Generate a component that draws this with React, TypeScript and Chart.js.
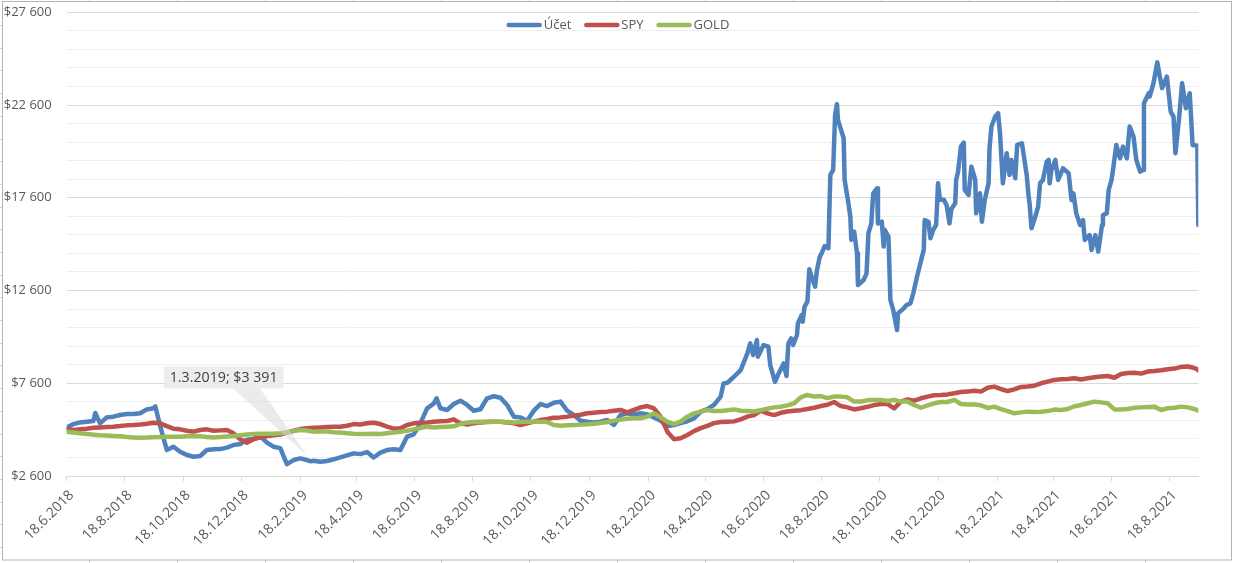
import React, { useEffect, useRef } from "react";
import { Chart, registerables } from "chart.js";

Chart.register(...registerables);

const seriesNames = ["Účet", "SPY", "GOLD"];
const seriesColors = ["#4f81bd", "#c0504d", "#9bbb59"];

const axisStart = "18.6.2018";
const axisEnd = "17.9.2021";
const yMin = 2600;
const yMax = 27600;
const yMajor = 5000;
const yMinor = 1000;

const tickDates = [
  "18.6.2018", "18.8.2018", "18.10.2018", "18.12.2018", "18.2.2019", "18.4.2019", "18.6.2019",
  "18.8.2019", "18.10.2019", "18.12.2019", "18.2.2020", "18.4.2020", "18.6.2020", "18.8.2020",
  "18.10.2020", "18.12.2020", "18.2.2021", "18.4.2021", "18.6.2021", "18.8.2021",
];

// weekly dates for SPY and GOLD
const weekDates = [
  "18.6.2018", "25.6.2018", "2.7.2018", "9.7.2018", "16.7.2018", "23.7.2018", "30.7.2018", "6.8.2018", "13.8.2018", "20.8.2018",
  "27.8.2018", "3.9.2018", "10.9.2018", "17.9.2018", "24.9.2018", "1.10.2018", "8.10.2018", "15.10.2018", "22.10.2018", "29.10.2018",
  "5.11.2018", "12.11.2018", "19.11.2018", "26.11.2018", "3.12.2018", "10.12.2018", "17.12.2018", "24.12.2018", "31.12.2018",
  "7.1.2019", "14.1.2019", "21.1.2019", "28.1.2019", "4.2.2019", "11.2.2019", "18.2.2019", "25.2.2019", "4.3.2019", "11.3.2019",
  "18.3.2019", "25.3.2019", "1.4.2019", "8.4.2019", "15.4.2019", "22.4.2019", "29.4.2019", "6.5.2019", "13.5.2019", "20.5.2019",
  "27.5.2019", "3.6.2019", "10.6.2019", "17.6.2019", "24.6.2019", "1.7.2019", "8.7.2019", "15.7.2019", "22.7.2019", "29.7.2019",
  "5.8.2019", "12.8.2019", "19.8.2019", "26.8.2019", "2.9.2019", "9.9.2019", "16.9.2019", "23.9.2019", "30.9.2019", "7.10.2019",
  "14.10.2019", "21.10.2019", "28.10.2019", "4.11.2019", "11.11.2019", "18.11.2019", "25.11.2019", "2.12.2019", "9.12.2019", "16.12.2019",
  "23.12.2019", "30.12.2019",
  "6.1.2020", "13.1.2020", "20.1.2020", "27.1.2020", "3.2.2020", "10.2.2020", "17.2.2020", "24.2.2020", "2.3.2020", "9.3.2020",
  "16.3.2020", "23.3.2020", "30.3.2020", "6.4.2020", "13.4.2020", "20.4.2020", "27.4.2020", "4.5.2020", "11.5.2020", "18.5.2020",
  "25.5.2020", "1.6.2020", "8.6.2020", "15.6.2020", "22.6.2020", "29.6.2020", "6.7.2020", "13.7.2020", "20.7.2020", "27.7.2020",
  "3.8.2020", "10.8.2020", "17.8.2020", "24.8.2020", "31.8.2020", "7.9.2020", "14.9.2020", "21.9.2020", "28.9.2020", "5.10.2020",
  "12.10.2020", "19.10.2020", "26.10.2020", "2.11.2020", "9.11.2020", "16.11.2020", "23.11.2020", "30.11.2020", "7.12.2020", "14.12.2020",
  "21.12.2020", "28.12.2020",
  "4.1.2021", "11.1.2021", "18.1.2021", "25.1.2021", "1.2.2021", "8.2.2021", "15.2.2021", "22.2.2021", "1.3.2021", "8.3.2021",
  "15.3.2021", "22.3.2021", "29.3.2021", "5.4.2021", "12.4.2021", "19.4.2021", "26.4.2021", "3.5.2021", "10.5.2021", "17.5.2021",
  "24.5.2021", "31.5.2021", "7.6.2021", "14.6.2021", "21.6.2021", "28.6.2021", "5.7.2021", "12.7.2021", "19.7.2021", "26.7.2021",
  "2.8.2021", "9.8.2021", "16.8.2021", "23.8.2021", "30.8.2021", "6.9.2021", "13.9.2021", "16.9.2021", "17.9.2021",
];

const spyValues = [
  5116, 5080, 5116, 5150, 5200, 5220, 5240, 5260, 5290, 5330,
  5350, 5380, 5420, 5475, 5440, 5290, 5150, 5116, 5040, 4990,
  5080, 5116, 5040, 5060, 5080, 4900, 4580, 4400, 4580,
  4680, 4750, 4790, 4830, 4940, 5040, 5130, 5170, 5200, 5220,
  5240, 5260, 5260, 5310, 5400, 5380, 5440, 5475, 5400, 5260,
  5150, 5170, 5350, 5440, 5475, 5490, 5530, 5550, 5565, 5655,
  5440, 5370, 5440, 5490, 5510, 5530, 5530, 5490, 5440, 5350,
  5440, 5530, 5620, 5670, 5745, 5760, 5800, 5850, 5905, 5980,
  6015, 6050,
  6070, 6120, 6160, 6030, 6160, 6300, 6370, 6250, 5800, 4990,
  4580, 4630, 4810, 5020, 5180, 5300, 5450, 5510, 5525, 5545,
  5650, 5800, 5885, 6120, 5980, 5885, 6010, 6080, 6120, 6150,
  6210, 6280, 6370, 6440, 6590, 6370, 6300, 6190, 6250, 6330,
  6420, 6480, 6480, 6250, 6610, 6730, 6660, 6790, 6880, 6950,
  6970, 7000,
  7060, 7130, 7150, 7200, 7150, 7360, 7420, 7290, 7180, 7270,
  7400, 7420, 7470, 7600, 7690, 7780, 7810, 7830, 7870, 7800,
  7870, 7920, 7960, 7990, 7900, 8100, 8150, 8170, 8120, 8230,
  8260, 8300, 8350, 8390, 8480, 8500, 8420, 8350, 8300,
];

const goldValues = [
  4990, 4950, 4900, 4860, 4830, 4800, 4780, 4760, 4740, 4700,
  4680, 4660, 4670, 4690, 4700, 4710, 4720, 4720, 4740, 4760,
  4740, 4700, 4680, 4700, 4730, 4760, 4800, 4840, 4870,
  4880, 4880, 4880, 4900, 4960, 5020, 5080, 5050, 4990, 5000,
  5000, 4960, 4940, 4910, 4880, 4870, 4870, 4880, 4860, 4900,
  4940, 4990, 5040, 5116, 5190, 5260, 5220, 5240, 5260, 5280,
  5400, 5490, 5510, 5530, 5530, 5530, 5530, 5510, 5490, 5510,
  5530, 5530, 5530, 5510, 5350, 5310, 5330, 5350, 5370, 5385,
  5420, 5460,
  5510, 5580, 5640, 5690, 5710, 5710, 5800, 5980, 5760, 5530,
  5400, 5530, 5800, 5980, 6070, 6160, 6100, 6100, 6140, 6190,
  6120, 6100, 6080, 6150, 6230, 6300, 6330, 6410, 6520, 6840,
  6970, 6880, 6910, 6800, 6880, 6880, 6840, 6610, 6610, 6680,
  6700, 6700, 6640, 6700, 6610, 6610, 6430, 6280, 6410, 6520,
  6590, 6590,
  6700, 6480, 6460, 6460, 6410, 6270, 6340, 6210, 6100, 5980,
  6030, 6070, 6050, 6070, 6100, 6180, 6160, 6210, 6360, 6430,
  6520, 6610, 6570, 6520, 6190, 6190, 6210, 6280, 6300, 6320,
  6340, 6160, 6250, 6280, 6340, 6300, 6210, 6150, 6120,
];

// Účet has its own, denser dates
const uctDates = [
  "18.6.2018", "25.6.2018", "2.7.2018", "9.7.2018", "16.7.2018", "18.7.2018", "23.7.2018", "30.7.2018", "6.8.2018", "13.8.2018",
  "20.8.2018", "27.8.2018", "3.9.2018", "10.9.2018", "17.9.2018", "19.9.2018", "24.9.2018", "1.10.2018", "8.10.2018", "15.10.2018",
  "22.10.2018", "29.10.2018", "5.11.2018", "12.11.2018", "19.11.2018", "26.11.2018", "3.12.2018", "10.12.2018", "17.12.2018", "24.12.2018",
  "31.12.2018", "7.1.2019", "14.1.2019", "21.1.2019", "28.1.2019", "4.2.2019", "11.2.2019", "18.2.2019", "25.2.2019", "1.3.2019",
  "4.3.2019", "11.3.2019", "18.3.2019", "25.3.2019", "1.4.2019", "8.4.2019", "15.4.2019", "22.4.2019", "29.4.2019", "6.5.2019",
  "13.5.2019", "20.5.2019", "27.5.2019", "3.6.2019", "10.6.2019", "17.6.2019", "24.6.2019", "1.7.2019", "8.7.2019", "11.7.2019",
  "15.7.2019", "22.7.2019", "29.7.2019", "5.8.2019", "12.8.2019", "19.8.2019", "26.8.2019", "2.9.2019", "9.9.2019", "16.9.2019",
  "23.9.2019", "30.9.2019", "7.10.2019", "14.10.2019", "21.10.2019", "28.10.2019", "4.11.2019", "11.11.2019", "18.11.2019", "25.11.2019",
  "2.12.2019", "9.12.2019", "16.12.2019", "23.12.2019", "30.12.2019", "6.1.2020", "13.1.2020", "20.1.2020", "27.1.2020", "3.2.2020",
  "10.2.2020", "17.2.2020", "24.2.2020", "2.3.2020", "9.3.2020", "16.3.2020", "23.3.2020", "30.3.2020", "6.4.2020", "13.4.2020",
  "20.4.2020", "27.4.2020", "4.5.2020", "7.5.2020", "11.5.2020", "18.5.2020", "25.5.2020", "1.6.2020", "4.6.2020", "7.6.2020",
  "11.6.2020", "12.6.2020", "18.6.2020", "23.6.2020", "25.6.2020", "30.6.2020", "3.7.2020", "9.7.2020", "12.7.2020", "14.7.2020",
  "17.7.2020", "19.7.2020", "23.7.2020", "24.7.2020", "28.7.2020", "29.7.2020", "31.7.2020", "3.8.2020", "5.8.2020", "7.8.2020",
  "11.8.2020", "13.8.2020", "16.8.2020", "18.8.2020", "21.8.2020", "25.8.2020", "27.8.2020", "30.8.2020", "1.9.2020", "3.9.2020",
  "4.9.2020", "10.9.2020", "11.9.2020", "15.9.2020", "17.9.2020", "18.9.2020", "21.9.2020", "24.9.2020", "25.9.2020", "1.10.2020",
  "4.10.2020", "6.10.2020", "9.10.2020", "11.10.2020", "15.10.2020", "16.10.2020", "20.10.2020", "22.10.2020", "23.10.2020", "27.10.2020",
  "29.10.2020", "1.11.2020", "5.11.2020", "6.11.2020", "12.11.2020", "15.11.2020", "19.11.2020", "22.11.2020", "26.11.2020", "29.11.2020",
  "3.12.2020", "4.12.2020", "8.12.2020", "10.12.2020", "13.12.2020", "16.12.2020", "18.12.2020", "20.12.2020", "24.12.2020", "27.12.2020",
  "30.12.2020", "1.1.2021", "5.1.2021", "6.1.2021", "8.1.2021", "11.1.2021", "14.1.2021", "15.1.2021", "19.1.2021", "22.1.2021",
  "26.1.2021", "27.1.2021", "31.1.2021", "2.2.2021", "5.2.2021", "9.2.2021", "10.2.2021", "12.2.2021", "16.2.2021", "19.2.2021",
  "21.2.2021", "24.2.2021", "28.2.2021", "3.3.2021", "5.3.2021", "9.3.2021", "11.3.2021", "16.3.2021", "21.3.2021", "23.3.2021",
  "24.3.2021", "26.3.2021", "30.3.2021", "2.4.2021", "4.4.2021", "7.4.2021", "11.4.2021", "13.4.2021", "14.4.2021", "16.4.2021",
  "20.4.2021", "23.4.2021", "28.4.2021", "4.5.2021", "7.5.2021", "9.5.2021", "12.5.2021", "16.5.2021", "19.5.2021", "21.5.2021",
  "26.5.2021", "28.5.2021", "1.6.2021", "4.6.2021", "8.6.2021", "9.6.2021", "13.6.2021", "15.6.2021", "18.6.2021", "20.6.2021",
  "23.6.2021", "27.6.2021", "30.6.2021", "4.7.2021", "7.7.2021", "11.7.2021", "14.7.2021", "18.7.2021", "21.7.2021", "22.7.2021",
  "27.7.2021", "28.7.2021", "1.8.2021", "5.8.2021", "8.8.2021", "10.8.2021", "15.8.2021", "19.8.2021", "22.8.2021", "24.8.2021",
  "28.8.2021", "31.8.2021", "4.9.2021", "8.9.2021", "11.9.2021", "16.9.2021", "17.9.2021",
];

const uctValues = [
  5200, 5400, 5490, 5530, 5560, 6000, 5440, 5760, 5800, 5890,
  5940, 5940, 5980, 6190, 6250, 6350, 5300, 4000, 4180, 3910,
  3730, 3640, 3680, 4000, 4040, 4050, 4130, 4270, 4320, 4560,
  4600, 4750, 4400, 4180, 4100, 3240, 3460, 3550, 3460, 3391,
  3420, 3370, 3410, 3500, 3600, 3710, 3820, 3780, 3890, 3600,
  3860, 4000, 4040, 4000, 4720, 4850, 5440, 6250, 6500, 6790,
  6250, 6160, 6480, 6660, 6430, 6120, 6200, 6790, 6900, 6820,
  6430, 5800, 5760, 5580, 6120, 6480, 6370, 6550, 6610, 6120,
  5890, 5580, 5530, 5490, 5530, 5620, 5350, 5890, 5980, 5920,
  5980, 5920, 5760, 5580, 5300, 5350, 5450, 5550, 5700, 6070,
  6200, 6430, 6880, 7590, 7630, 7950, 8310, 9210, 9750, 9120,
  9930, 9030, 9660, 9570, 8580, 7680, 8040, 8670, 7990, 9750,
  10020, 9660, 10200, 10830, 11280, 10920, 11730, 12000, 13750, 13400,
  12810, 13700, 14430, 14610, 15000, 14880, 18830, 19100, 22070, 22650,
  21800, 20810, 18560, 17300, 16580, 15330, 15780, 14610, 12900, 13170,
  13530, 15690, 16220, 17840, 18110, 16220, 16310, 14970, 15870, 15510,
  12090, 11550, 10470, 11370, 11640, 11820, 11910, 12450, 13350, 13980,
  14790, 16400, 16310, 15420, 15870, 16140, 18380, 17500, 17500, 17200,
  16220, 17000, 17300, 18560, 19000, 20360, 20580, 18020, 17750, 19280,
  18560, 16760, 17840, 16310, 17480, 18380, 20270, 21440, 21980, 22160,
  21080, 18380, 20000, 18830, 19640, 18650, 20450, 20540, 18830, 17660,
  17300, 15960, 16580, 17120, 18380, 18560, 19550, 19640, 18380, 19100,
  19640, 18560, 19190, 18920, 17480, 17840, 16760, 16130, 16400, 15320,
  15590, 14790, 15590, 14700, 16130, 16670, 16760, 18020, 18560, 19280,
  20450, 19730, 20360, 19730, 21440, 20900, 19640, 19010, 19100, 22700,
  23240, 23060, 23780, 24900, 24040, 23510, 24140, 22250, 21980, 20000,
  21980, 23780, 22430, 23240, 20450, 20410, 16130,
];

const calloutDate = "1.3.2019";
const calloutValue = 3391;

const FONT = '"Open Sans", "Liberation Sans", Arial, sans-serif';

function dayOf(s: string): number {
  const [d, m, y] = s.split(".").map(Number);
  const [d0, m0, y0] = axisStart.split(".").map(Number);
  return Math.round((Date.UTC(y, m - 1, d) - Date.UTC(y0, m0 - 1, d0)) / 86400000);
}

function money(v: number): string {
  return "$" + String(Math.round(v)).replace(/\B(?=(\d{3})+(?!\d))/g, " ");
}

function pairs(dates: string[], values: number[]) {
  const n = Math.min(dates.length, values.length);
  const out: { x: number; y: number }[] = [];
  for (let i = 0; i < n; i++) out.push({ x: dayOf(dates[i]), y: values[i] });
  return out;
}

const framePlugin = {
  id: "frame",
  beforeDraw(chart: any) {
    const { ctx, width, height } = chart;
    ctx.save();
    ctx.fillStyle = "#ffffff";
    ctx.fillRect(0, 0, width, height);
    ctx.strokeStyle = "#d0d0d0";
    ctx.lineWidth = 1;
    ctx.beginPath();
    for (let x = 89; x < width - 4; x += 88) {
      ctx.moveTo(x + 0.5, 0);
      ctx.lineTo(x + 0.5, 1.5);
      ctx.moveTo(x + 0.5, 560);
      ctx.lineTo(x + 0.5, height);
    }
    for (let y = 25; y < height - 4; y += 22.7) {
      ctx.moveTo(0, Math.round(y) + 0.5);
      ctx.lineTo(2, Math.round(y) + 0.5);
    }
    ctx.stroke();
    ctx.strokeStyle = "#b4b4b4";
    ctx.strokeRect(2.5, 1.5, 1229, 558.5);
    ctx.restore();
  },
};

const legendPlugin = {
  id: "customLegend",
  afterDraw(chart: any) {
    const { ctx } = chart;
    ctx.save();
    ctx.font = `13px ${FONT}`;
    const sample = 35;
    const gap = 2;
    const between = 13;
    const widths = seriesNames.map((n) => ctx.measureText(n).width);
    const total = widths.reduce((s, w) => s + sample + gap + w, 0) + between * (seriesNames.length - 1);
    let x = 618 - total / 2;
    const y = 25;
    seriesNames.forEach((name, i) => {
      ctx.strokeStyle = seriesColors[i];
      ctx.lineWidth = 4.5;
      ctx.lineCap = "round";
      ctx.beginPath();
      ctx.moveTo(x + 2, y);
      ctx.lineTo(x + sample - 2, y);
      ctx.stroke();
      ctx.fillStyle = "#595959";
      ctx.textBaseline = "middle";
      ctx.textAlign = "left";
      ctx.fillText(name, x + sample + gap, y + 0.5);
      x += sample + gap + widths[i] + between;
    });
    ctx.restore();
  },
};

const calloutPlugin = {
  id: "callout",
  afterDatasetsDraw(chart: any) {
    const { ctx } = chart;
    const xs = chart.scales.x;
    const ys = chart.scales.y;
    const px = xs.getPixelForValue(dayOf(calloutDate));
    const py = ys.getPixelForValue(calloutValue);
    const text = `${calloutDate}; ${money(calloutValue)}`;
    ctx.save();
    ctx.font = `14.2px ${FONT}`;
    const tw = ctx.measureText(text).width;
    const bw = tw + 12;
    const bh = 22;
    const bx = px - 147;
    const by = py - 95;
    ctx.fillStyle = "rgba(215,215,215,0.5)";
    ctx.beginPath();
    ctx.moveTo(bx + 69, by + bh);
    ctx.lineTo(bx + 96, by + bh);
    ctx.lineTo(px - 3, py - 5);
    ctx.closePath();
    ctx.fill();
    ctx.fillStyle = "rgba(236,236,236,0.92)";
    ctx.fillRect(bx, by, bw, bh);
    ctx.fillStyle = "#404040";
    ctx.textBaseline = "middle";
    ctx.textAlign = "left";
    ctx.fillText(text, bx + 6, by + bh / 2 + 1);
    ctx.restore();
  },
};

export default function App() {
  const canvasRef = useRef<HTMLCanvasElement | null>(null);

  useEffect(() => {
    document.body.style.margin = "0";
    const canvas = canvasRef.current;
    if (!canvas) return;
    const labelByDay: Record<number, string> = {};
    tickDates.forEach((d) => {
      labelByDay[dayOf(d)] = d;
    });

    const chart = new Chart(canvas, {
      type: "line",
      data: {
        datasets: [
          { label: seriesNames[0], data: pairs(uctDates, uctValues), borderColor: seriesColors[0], backgroundColor: seriesColors[0], order: 2 },
          { label: seriesNames[1], data: pairs(weekDates, spyValues), borderColor: seriesColors[1], backgroundColor: seriesColors[1], order: 1 },
          { label: seriesNames[2], data: pairs(weekDates, goldValues), borderColor: seriesColors[2], backgroundColor: seriesColors[2], order: 0 },
        ],
      },
      options: {
        animation: false,
        responsive: false,
        devicePixelRatio: 1,
        layout: { padding: { left: 0, top: 12.3, right: 35.7, bottom: 0 } },
        elements: {
          point: { radius: 0, hoverRadius: 0 },
          line: { borderWidth: 4.5, borderJoinStyle: "round", borderCapStyle: "round", tension: 0, fill: false },
        },
        plugins: {
          legend: { display: false },
          tooltip: { enabled: false },
        },
        scales: {
          x: {
            type: "linear",
            min: dayOf(axisStart),
            max: dayOf(axisEnd),
            afterBuildTicks: (s: any) => {
              s.ticks = tickDates.map((d) => ({ value: dayOf(d) }));
            },
            afterFit: (s: any) => {
              s.height = 87;
              s.paddingLeft = 0;
              s.paddingRight = 0;
            },
            ticks: {
              autoSkip: false,
              maxRotation: 45,
              minRotation: 45,
              color: "#595959",
              font: { family: FONT, size: 14 },
              padding: 6,
              labelOffset: 5,
              callback: (v: any) => labelByDay[Number(v)] ?? "",
            },
            grid: { drawOnChartArea: false, drawTicks: true, tickLength: 5, color: "#d9d9d9" },
            border: { display: true, color: "#d9d9d9" },
          },
          y: {
            type: "linear",
            min: yMin,
            max: yMax,
            afterFit: (s: any) => {
              s.width = 66.7;
              s.paddingTop = 0;
              s.paddingBottom = 0;
            },
            ticks: {
              stepSize: yMinor,
              autoSkip: false,
              color: "#595959",
              font: { family: FONT, size: 13 },
              padding: 15,
              callback: (v: any) => ((Number(v) - yMin) % yMajor === 0 ? money(Number(v)) : ""),
            },
            grid: {
              drawTicks: false,
              color: (c: any) => ((c.tick && (c.tick.value - yMin) % yMajor === 0) ? "#d9d9d9" : "#efefef"),
              lineWidth: 1,
            },
            border: { display: false },
          },
        },
      },
      plugins: [framePlugin, calloutPlugin, legendPlugin],
    } as any);

    return () => chart.destroy();
  }, []);

  return (
    <div style={{ width: 1234, height: 563, position: "relative" }}>
      <canvas ref={canvasRef} width={1234} height={563} style={{ display: "block", width: 1234, height: 563 }} />
    </div>
  );
}
